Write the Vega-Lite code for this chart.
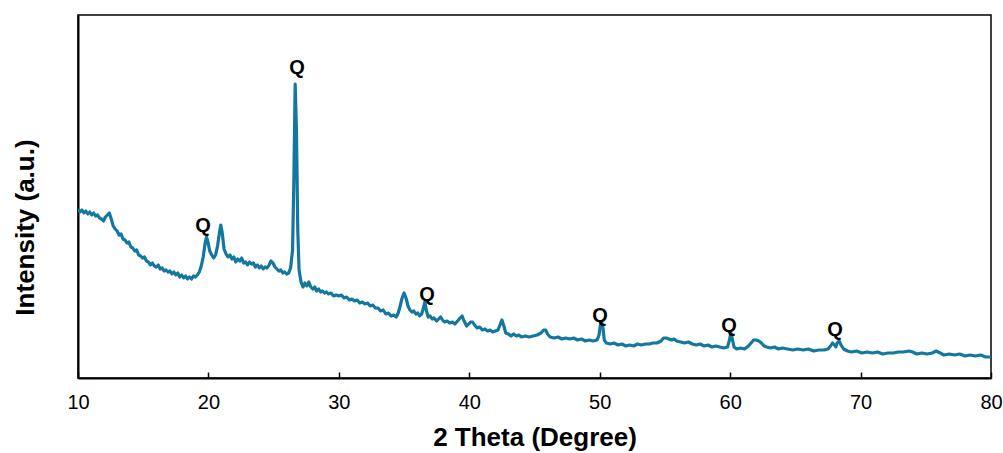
{
  "$schema": "https://vega.github.io/schema/vega-lite/v6.json",
  "autosize": "none",
  "width": 913,
  "height": 363,
  "padding": {"left": 78, "top": 15, "right": 12, "bottom": 75},
  "background": "white",
  "config": {
    "view": {"stroke": "black", "strokeWidth": 1.5},
    "font": "Liberation Sans"
  },
  "datasets": {
    "xrd": [
      {"theta": 10.0, "y": 209}, {"theta": 10.15, "y": 212}, {"theta": 10.3, "y": 210}, {"theta": 10.45, "y": 213},
      {"theta": 10.6, "y": 211}, {"theta": 10.75, "y": 214}, {"theta": 10.9, "y": 212}, {"theta": 11.05, "y": 215},
      {"theta": 11.2, "y": 213}, {"theta": 11.35, "y": 216}, {"theta": 11.5, "y": 215}, {"theta": 11.65, "y": 218},
      {"theta": 11.8, "y": 219}, {"theta": 11.95, "y": 221}, {"theta": 12.1, "y": 217}, {"theta": 12.25, "y": 215},
      {"theta": 12.4, "y": 213}, {"theta": 12.55, "y": 219}, {"theta": 12.7, "y": 226}, {"theta": 12.85, "y": 229},
      {"theta": 13.0, "y": 231}, {"theta": 13.15, "y": 235}, {"theta": 13.3, "y": 234}, {"theta": 13.45, "y": 239},
      {"theta": 13.6, "y": 240}, {"theta": 13.75, "y": 243}, {"theta": 13.9, "y": 242}, {"theta": 14.05, "y": 247},
      {"theta": 14.2, "y": 248}, {"theta": 14.35, "y": 251}, {"theta": 14.5, "y": 250}, {"theta": 14.65, "y": 255},
      {"theta": 14.8, "y": 256}, {"theta": 14.95, "y": 258}, {"theta": 15.1, "y": 257}, {"theta": 15.25, "y": 261},
      {"theta": 15.4, "y": 262}, {"theta": 15.55, "y": 265}, {"theta": 15.7, "y": 263}, {"theta": 15.85, "y": 266},
      {"theta": 16.0, "y": 267}, {"theta": 16.15, "y": 265}, {"theta": 16.3, "y": 269}, {"theta": 16.45, "y": 268},
      {"theta": 16.6, "y": 271}, {"theta": 16.75, "y": 270}, {"theta": 16.9, "y": 272}, {"theta": 17.05, "y": 271},
      {"theta": 17.2, "y": 274}, {"theta": 17.35, "y": 272}, {"theta": 17.5, "y": 275}, {"theta": 17.65, "y": 273},
      {"theta": 17.8, "y": 277}, {"theta": 17.95, "y": 275}, {"theta": 18.1, "y": 278}, {"theta": 18.25, "y": 276},
      {"theta": 18.4, "y": 279}, {"theta": 18.55, "y": 277}, {"theta": 18.7, "y": 279}, {"theta": 18.85, "y": 276},
      {"theta": 19.0, "y": 277}, {"theta": 19.15, "y": 275}, {"theta": 19.3, "y": 272}, {"theta": 19.45, "y": 266},
      {"theta": 19.6, "y": 257}, {"theta": 19.75, "y": 243}, {"theta": 19.85, "y": 237}, {"theta": 19.95, "y": 241},
      {"theta": 20.1, "y": 251}, {"theta": 20.25, "y": 255}, {"theta": 20.4, "y": 258}, {"theta": 20.55, "y": 255},
      {"theta": 20.7, "y": 246}, {"theta": 20.85, "y": 232}, {"theta": 20.95, "y": 225}, {"theta": 21.05, "y": 232},
      {"theta": 21.2, "y": 249}, {"theta": 21.35, "y": 254}, {"theta": 21.5, "y": 257}, {"theta": 21.65, "y": 255},
      {"theta": 21.8, "y": 259}, {"theta": 21.95, "y": 257}, {"theta": 22.1, "y": 262}, {"theta": 22.25, "y": 259},
      {"theta": 22.4, "y": 261}, {"theta": 22.55, "y": 258}, {"theta": 22.7, "y": 263}, {"theta": 22.85, "y": 262},
      {"theta": 23.0, "y": 265}, {"theta": 23.15, "y": 262}, {"theta": 23.3, "y": 264}, {"theta": 23.45, "y": 263},
      {"theta": 23.6, "y": 267}, {"theta": 23.75, "y": 265}, {"theta": 23.9, "y": 268}, {"theta": 24.05, "y": 266},
      {"theta": 24.2, "y": 269}, {"theta": 24.35, "y": 267}, {"theta": 24.5, "y": 268}, {"theta": 24.65, "y": 265},
      {"theta": 24.8, "y": 261}, {"theta": 24.95, "y": 263}, {"theta": 25.1, "y": 267}, {"theta": 25.25, "y": 269},
      {"theta": 25.4, "y": 271}, {"theta": 25.55, "y": 270}, {"theta": 25.7, "y": 273}, {"theta": 25.85, "y": 272},
      {"theta": 26.0, "y": 274}, {"theta": 26.15, "y": 273}, {"theta": 26.3, "y": 268}, {"theta": 26.45, "y": 250},
      {"theta": 26.55, "y": 180}, {"theta": 26.65, "y": 84}, {"theta": 26.75, "y": 130}, {"theta": 26.85, "y": 230},
      {"theta": 26.95, "y": 270}, {"theta": 27.1, "y": 282}, {"theta": 27.25, "y": 287}, {"theta": 27.4, "y": 283},
      {"theta": 27.55, "y": 286}, {"theta": 27.7, "y": 282}, {"theta": 27.85, "y": 287}, {"theta": 28.0, "y": 289},
      {"theta": 28.15, "y": 287}, {"theta": 28.3, "y": 291}, {"theta": 28.45, "y": 289}, {"theta": 28.6, "y": 292},
      {"theta": 28.75, "y": 291}, {"theta": 28.9, "y": 293}, {"theta": 29.05, "y": 292}, {"theta": 29.2, "y": 294},
      {"theta": 29.4, "y": 293}, {"theta": 29.6, "y": 296}, {"theta": 29.8, "y": 295}, {"theta": 30.0, "y": 296},
      {"theta": 30.2, "y": 295}, {"theta": 30.4, "y": 298}, {"theta": 30.6, "y": 297}, {"theta": 30.8, "y": 300},
      {"theta": 31.0, "y": 299}, {"theta": 31.2, "y": 301}, {"theta": 31.4, "y": 300}, {"theta": 31.6, "y": 303},
      {"theta": 31.8, "y": 302}, {"theta": 32.0, "y": 304}, {"theta": 32.2, "y": 303}, {"theta": 32.4, "y": 306},
      {"theta": 32.6, "y": 305}, {"theta": 32.8, "y": 308}, {"theta": 33.0, "y": 308}, {"theta": 33.2, "y": 311},
      {"theta": 33.4, "y": 310}, {"theta": 33.6, "y": 314}, {"theta": 33.8, "y": 313}, {"theta": 34.0, "y": 316},
      {"theta": 34.2, "y": 315}, {"theta": 34.4, "y": 317}, {"theta": 34.55, "y": 313}, {"theta": 34.7, "y": 306},
      {"theta": 34.85, "y": 298}, {"theta": 35.0, "y": 293}, {"theta": 35.15, "y": 298}, {"theta": 35.3, "y": 306},
      {"theta": 35.45, "y": 310}, {"theta": 35.6, "y": 312}, {"theta": 35.75, "y": 311}, {"theta": 35.9, "y": 314},
      {"theta": 36.05, "y": 313}, {"theta": 36.2, "y": 316}, {"theta": 36.35, "y": 314}, {"theta": 36.5, "y": 307},
      {"theta": 36.6, "y": 302}, {"theta": 36.7, "y": 310}, {"theta": 36.85, "y": 317}, {"theta": 37.0, "y": 316},
      {"theta": 37.15, "y": 319}, {"theta": 37.3, "y": 318}, {"theta": 37.5, "y": 321}, {"theta": 37.65, "y": 319},
      {"theta": 37.8, "y": 317}, {"theta": 37.95, "y": 320}, {"theta": 38.1, "y": 322}, {"theta": 38.3, "y": 321},
      {"theta": 38.5, "y": 323}, {"theta": 38.7, "y": 322}, {"theta": 38.9, "y": 324}, {"theta": 39.1, "y": 321},
      {"theta": 39.3, "y": 318}, {"theta": 39.45, "y": 316}, {"theta": 39.6, "y": 321}, {"theta": 39.8, "y": 326},
      {"theta": 39.95, "y": 324}, {"theta": 40.1, "y": 322}, {"theta": 40.25, "y": 322}, {"theta": 40.4, "y": 325},
      {"theta": 40.6, "y": 328}, {"theta": 40.8, "y": 327}, {"theta": 41.0, "y": 330}, {"theta": 41.2, "y": 329},
      {"theta": 41.4, "y": 331}, {"theta": 41.6, "y": 330}, {"theta": 41.8, "y": 332}, {"theta": 42.0, "y": 331},
      {"theta": 42.2, "y": 330}, {"theta": 42.35, "y": 325}, {"theta": 42.5, "y": 320}, {"theta": 42.65, "y": 326},
      {"theta": 42.8, "y": 333}, {"theta": 43.0, "y": 334}, {"theta": 43.2, "y": 336}, {"theta": 43.4, "y": 334},
      {"theta": 43.6, "y": 336}, {"theta": 43.8, "y": 335}, {"theta": 44.0, "y": 337}, {"theta": 44.3, "y": 336},
      {"theta": 44.6, "y": 337}, {"theta": 44.9, "y": 336}, {"theta": 45.2, "y": 335}, {"theta": 45.5, "y": 333},
      {"theta": 45.7, "y": 330}, {"theta": 45.85, "y": 330}, {"theta": 46.0, "y": 334}, {"theta": 46.2, "y": 337},
      {"theta": 46.5, "y": 338}, {"theta": 46.8, "y": 337}, {"theta": 47.1, "y": 339}, {"theta": 47.4, "y": 338},
      {"theta": 47.7, "y": 339}, {"theta": 48.0, "y": 338}, {"theta": 48.3, "y": 340}, {"theta": 48.6, "y": 339},
      {"theta": 48.9, "y": 341}, {"theta": 49.2, "y": 340}, {"theta": 49.5, "y": 341}, {"theta": 49.8, "y": 340},
      {"theta": 49.95, "y": 335}, {"theta": 50.05, "y": 325}, {"theta": 50.15, "y": 322}, {"theta": 50.25, "y": 328},
      {"theta": 50.35, "y": 340}, {"theta": 50.5, "y": 343}, {"theta": 50.8, "y": 344}, {"theta": 51.1, "y": 343},
      {"theta": 51.4, "y": 345}, {"theta": 51.7, "y": 344}, {"theta": 52.0, "y": 346}, {"theta": 52.3, "y": 345},
      {"theta": 52.6, "y": 346}, {"theta": 52.9, "y": 344}, {"theta": 53.2, "y": 345}, {"theta": 53.5, "y": 344},
      {"theta": 53.8, "y": 344}, {"theta": 54.1, "y": 343}, {"theta": 54.4, "y": 343}, {"theta": 54.7, "y": 341},
      {"theta": 54.9, "y": 338}, {"theta": 55.1, "y": 338}, {"theta": 55.3, "y": 339}, {"theta": 55.5, "y": 340},
      {"theta": 55.7, "y": 339}, {"theta": 55.9, "y": 341}, {"theta": 56.2, "y": 342}, {"theta": 56.5, "y": 343},
      {"theta": 56.8, "y": 342}, {"theta": 57.1, "y": 344}, {"theta": 57.4, "y": 345}, {"theta": 57.7, "y": 344},
      {"theta": 58.0, "y": 346}, {"theta": 58.3, "y": 345}, {"theta": 58.6, "y": 347}, {"theta": 58.9, "y": 346},
      {"theta": 59.2, "y": 347}, {"theta": 59.5, "y": 348}, {"theta": 59.8, "y": 347}, {"theta": 59.95, "y": 340},
      {"theta": 60.05, "y": 333}, {"theta": 60.15, "y": 338}, {"theta": 60.3, "y": 347}, {"theta": 60.5, "y": 349},
      {"theta": 60.8, "y": 348}, {"theta": 61.1, "y": 349}, {"theta": 61.4, "y": 346}, {"theta": 61.6, "y": 343},
      {"theta": 61.8, "y": 340}, {"theta": 62.0, "y": 340}, {"theta": 62.2, "y": 341}, {"theta": 62.4, "y": 343},
      {"theta": 62.6, "y": 346}, {"theta": 62.8, "y": 347}, {"theta": 63.1, "y": 348}, {"theta": 63.4, "y": 347},
      {"theta": 63.7, "y": 349}, {"theta": 64.0, "y": 348}, {"theta": 64.4, "y": 349}, {"theta": 64.8, "y": 350},
      {"theta": 65.2, "y": 349}, {"theta": 65.6, "y": 350}, {"theta": 66.0, "y": 349}, {"theta": 66.4, "y": 351},
      {"theta": 66.8, "y": 350}, {"theta": 67.2, "y": 350}, {"theta": 67.5, "y": 349}, {"theta": 67.7, "y": 346},
      {"theta": 67.85, "y": 343}, {"theta": 68.0, "y": 345}, {"theta": 68.1, "y": 347}, {"theta": 68.2, "y": 343},
      {"theta": 68.35, "y": 341}, {"theta": 68.5, "y": 345}, {"theta": 68.7, "y": 349}, {"theta": 69.0, "y": 351},
      {"theta": 69.3, "y": 352}, {"theta": 69.7, "y": 351}, {"theta": 70.1, "y": 353}, {"theta": 70.5, "y": 352},
      {"theta": 70.9, "y": 353}, {"theta": 71.3, "y": 352}, {"theta": 71.7, "y": 354}, {"theta": 72.1, "y": 353},
      {"theta": 72.5, "y": 353}, {"theta": 72.9, "y": 352}, {"theta": 73.3, "y": 352}, {"theta": 73.7, "y": 351},
      {"theta": 74.0, "y": 352}, {"theta": 74.3, "y": 354}, {"theta": 74.7, "y": 353}, {"theta": 75.1, "y": 354},
      {"theta": 75.5, "y": 353}, {"theta": 75.8, "y": 351}, {"theta": 76.1, "y": 353}, {"theta": 76.4, "y": 355},
      {"theta": 76.8, "y": 354}, {"theta": 77.2, "y": 355}, {"theta": 77.6, "y": 354}, {"theta": 78.0, "y": 356},
      {"theta": 78.4, "y": 355}, {"theta": 78.8, "y": 356}, {"theta": 79.2, "y": 355}, {"theta": 79.6, "y": 357},
      {"theta": 80.0, "y": 357}
    ],
    "labels": [
      {"theta": 19.58, "y": 226, "label": "Q"},
      {"theta": 26.79, "y": 68, "label": "Q"},
      {"theta": 36.76, "y": 295, "label": "Q"},
      {"theta": 50.02, "y": 316, "label": "Q"},
      {"theta": 59.91, "y": 326, "label": "Q"},
      {"theta": 68.04, "y": 330, "label": "Q"}
    ]
  },
  "layer": [
    {
      "data": {"name": "xrd"},
      "transform": [{"calculate": "378 - datum.y", "as": "intensity"}],
      "mark": {"type": "line", "color": "#13779f", "strokeWidth": 3.2, "strokeJoin": "round", "clip": true},
      "encoding": {
        "x": {
          "field": "theta", "type": "quantitative",
          "scale": {"domain": [10, 80], "nice": false, "zero": false},
          "axis": {
            "title": "2 Theta (Degree)",
            "titleFont": "Liberation Sans", "titleFontSize": 26, "titleFontWeight": "bold", "titleColor": "black",
            "titlePadding": 12,
            "values": [10, 20, 30, 40, 50, 60, 70, 80],
            "labelFont": "Liberation Sans", "labelFontSize": 20, "labelColor": "black",
            "labelPadding": 20, "labelFlush": false,
            "tickSize": -6, "tickColor": "black", "tickWidth": 1.5,
            "domainColor": "black", "domainWidth": 2, "grid": false
          }
        },
        "y": {
          "field": "intensity", "type": "quantitative",
          "scale": {"domain": [0, 363], "nice": false},
          "axis": {
            "title": "Intensity (a.u.)",
            "titleFont": "Liberation Sans", "titleFontSize": 26, "titleFontWeight": "bold", "titleColor": "black",
            "titlePadding": 40,
            "titleY": 212,
            "labels": false, "ticks": false,
            "domainColor": "black", "domainWidth": 2, "grid": false
          }
        }
      }
    },
    {
      "data": {"name": "labels"},
      "transform": [{"calculate": "378 - datum.y", "as": "intensity"}],
      "mark": {"type": "text", "font": "Liberation Sans", "fontSize": 20, "fontWeight": "bold", "color": "black", "baseline": "middle", "align": "center"},
      "encoding": {
        "x": {"field": "theta", "type": "quantitative"},
        "y": {"field": "intensity", "type": "quantitative"},
        "text": {"field": "label"}
      }
    }
  ]
}
